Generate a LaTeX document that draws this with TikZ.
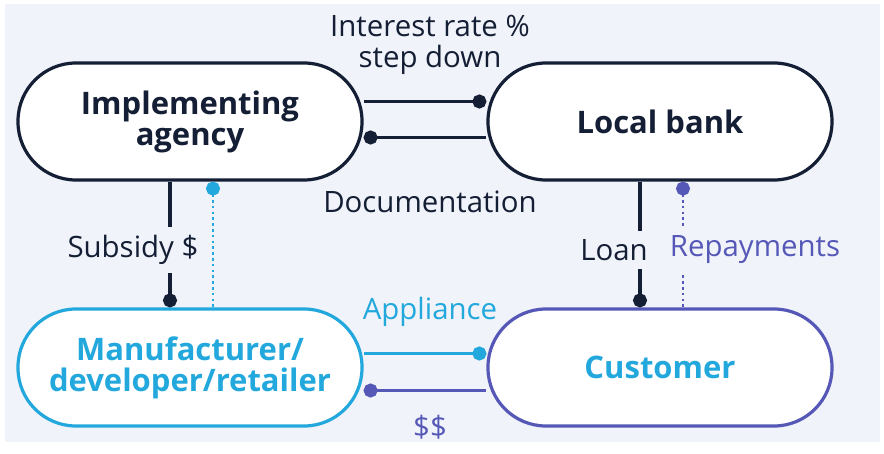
\documentclass[tikz,border=0pt]{standalone}
\usepackage{fontspec}
\setmainfont{Open Sans}
\usepackage{xcolor}
\usetikzlibrary{arrows.meta}

\definecolor{navy}{RGB}{20,30,52}
\definecolor{sky}{RGB}{34,168,220}
\definecolor{bankpurple}{RGB}{86,88,184}
\definecolor{backdrop}{RGB}{241,243,250}

\begin{document}
\begin{tikzpicture}[x=0.5pt, y=-0.5pt, >={Circle[length=7pt]},
    stadium/.style={draw, line width=1.6pt, fill=white, rounded corners=29pt,
      minimum width=172pt, minimum height=58.5pt, align=center,
      font=\fontsize{15.5}{15.5}\selectfont\bfseries},
    flow/.style={line width=1.6pt},
    dots/.style={line width=1.4pt, dash pattern=on 1.3pt off 1.6pt},
    lbl/.style={font=\fontsize{14.7}{15.5}\selectfont, inner sep=1pt, align=center},
    gap/.style={lbl, fill=backdrop, inner ysep=4pt}]
    \fill[white] (0,0) rectangle (884,454);
    \fill[backdrop] (5,4) rectangle (880,442);

    \node[stadium, draw=navy, text=navy] (agency) at (190,121.5) {Implementing\\agency};
    \node[stadium, draw=navy, text=navy] (bank) at (660,121.5) {Local bank};
    \node[stadium, draw=sky, text=sky] (maker) at (190,367.5) {Manufacturer/\\developer/retailer};
    \node[stadium, draw=bankpurple, text=sky] (customer) at (660,367.5) {Customer};

    \draw[flow, navy, ->] ([yshift=10pt]agency.east) -- ([yshift=10pt]bank.west);
    \draw[flow, navy, <-] ([yshift=-8pt]agency.east) -- ([yshift=-8pt]bank.west);
    \draw[flow, sky, ->] ([yshift=7pt]maker.east) -- ([yshift=7pt]customer.west);
    \draw[flow, bankpurple, <-] ([yshift=-11.5pt]maker.east) -- ([yshift=-11.5pt]customer.west);

    \draw[flow, navy, ->] ([xshift=-10pt]agency.south) -- ([xshift=-10pt]maker.north);
    \draw[dots, sky, <-] ([xshift=11.5pt]agency.south) -- ([xshift=11.5pt]maker.north);
    \draw[flow, navy, ->] ([xshift=-10pt]bank.south) -- ([xshift=-10pt]customer.north);
    \draw[dots, bankpurple, <-] ([xshift=11.5pt]bank.south) -- ([xshift=11.5pt]customer.north);

    \node[lbl, text=navy] (rate) at (430,45) {Interest rate \%\\step down};
    \node[lbl, text=navy] (docs) at (430,202) {Documentation};
    \node[gap, text=navy] (subsidy) at (133,250) {Subsidy \$};
    \node[gap, text=navy] (loan) at (614,250) {Loan};
    \node[gap, text=bankpurple] (repay) at (755,250) {Repayments};
    \node[lbl, text=sky] (appliance) at (430,312) {Appliance};
    \node[lbl, text=bankpurple] (cash) at (430,427) {\$\$};
\end{tikzpicture}
\end{document}
